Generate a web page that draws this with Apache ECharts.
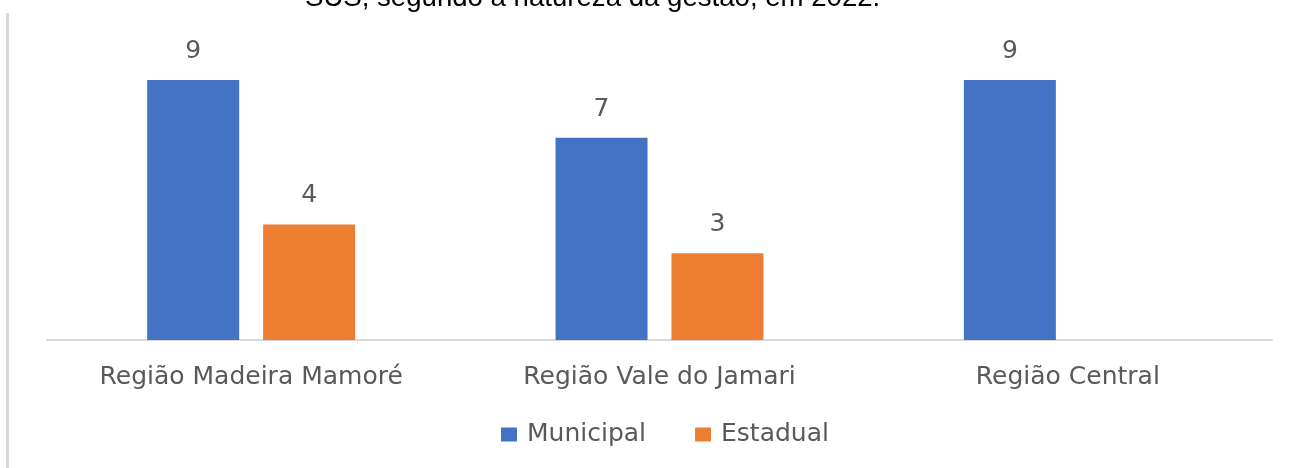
<!DOCTYPE html>
<html>
<head>
<meta charset="utf-8">
<script src="https://cdn.jsdelivr.net/npm/echarts@6/dist/echarts.min.js"></script>
<style>
html,body{margin:0;padding:0;background:#fff;}
#c{width:1303px;height:468px;}
</style>
</head>
<body>
<div id="c"></div>
<script>
const categories = ['Região Madeira Mamoré', 'Região Vale do Jamari', 'Região Central'];
const municipal = [9, 7, 9];
const estadual = [4, 3, null];
const seriesNames = ['Municipal', 'Estadual'];
const titleText = 'SUS, segundo a natureza da gestão, em 2022.';

const FONT = '"DejaVu Sans", sans-serif';
const chart = echarts.init(document.getElementById('c'), null, {renderer: 'canvas'});
const labelStyle = {show: true, position: 'top', distance: 16, color: '#595959', fontSize: 25, fontFamily: FONT};
chart.setOption({
  animation: false,
  backgroundColor: '#fff',
  graphic: [
    {type: 'text', left: 305, top: -16, style: {text: titleText, fill: '#000', font: '27.6px "Liberation Sans", Arial, sans-serif'}},
    {type: 'line', shape: {x1: 7.5, y1: 13, x2: 7.5, y2: 468}, style: {stroke: '#d9d9d9', lineWidth: 3}}
  ],
  legend: {
    left: 501, top: 422, padding: 0,
    itemWidth: 16, itemHeight: 14, itemGap: 49,
    icon: 'rect',
    textStyle: {color: '#595959', fontSize: 25, fontFamily: FONT, padding: [0, 0, 0, 5]},
    data: seriesNames
  },
  grid: {left: 47, right: 31, top: 51, bottom: 128},
  xAxis: {
    type: 'category', data: categories,
    axisLine: {lineStyle: {color: '#d9d9d9', width: 2}},
    axisTick: {show: false},
    axisLabel: {color: '#595959', fontSize: 25, fontFamily: FONT, margin: 25}
  },
  yAxis: {type: 'value', min: 0, max: 10, show: false, splitLine: {show: false}},
  series: [
    {name: seriesNames[0], type: 'bar', data: municipal, barWidth: 92, barGap: '26%', itemStyle: {color: '#4472C4'}, label: labelStyle},
    {name: seriesNames[1], type: 'bar', data: estadual, barWidth: 92, itemStyle: {color: '#ED7D31'}, label: labelStyle}
  ]
});
</script>
</body>
</html>
